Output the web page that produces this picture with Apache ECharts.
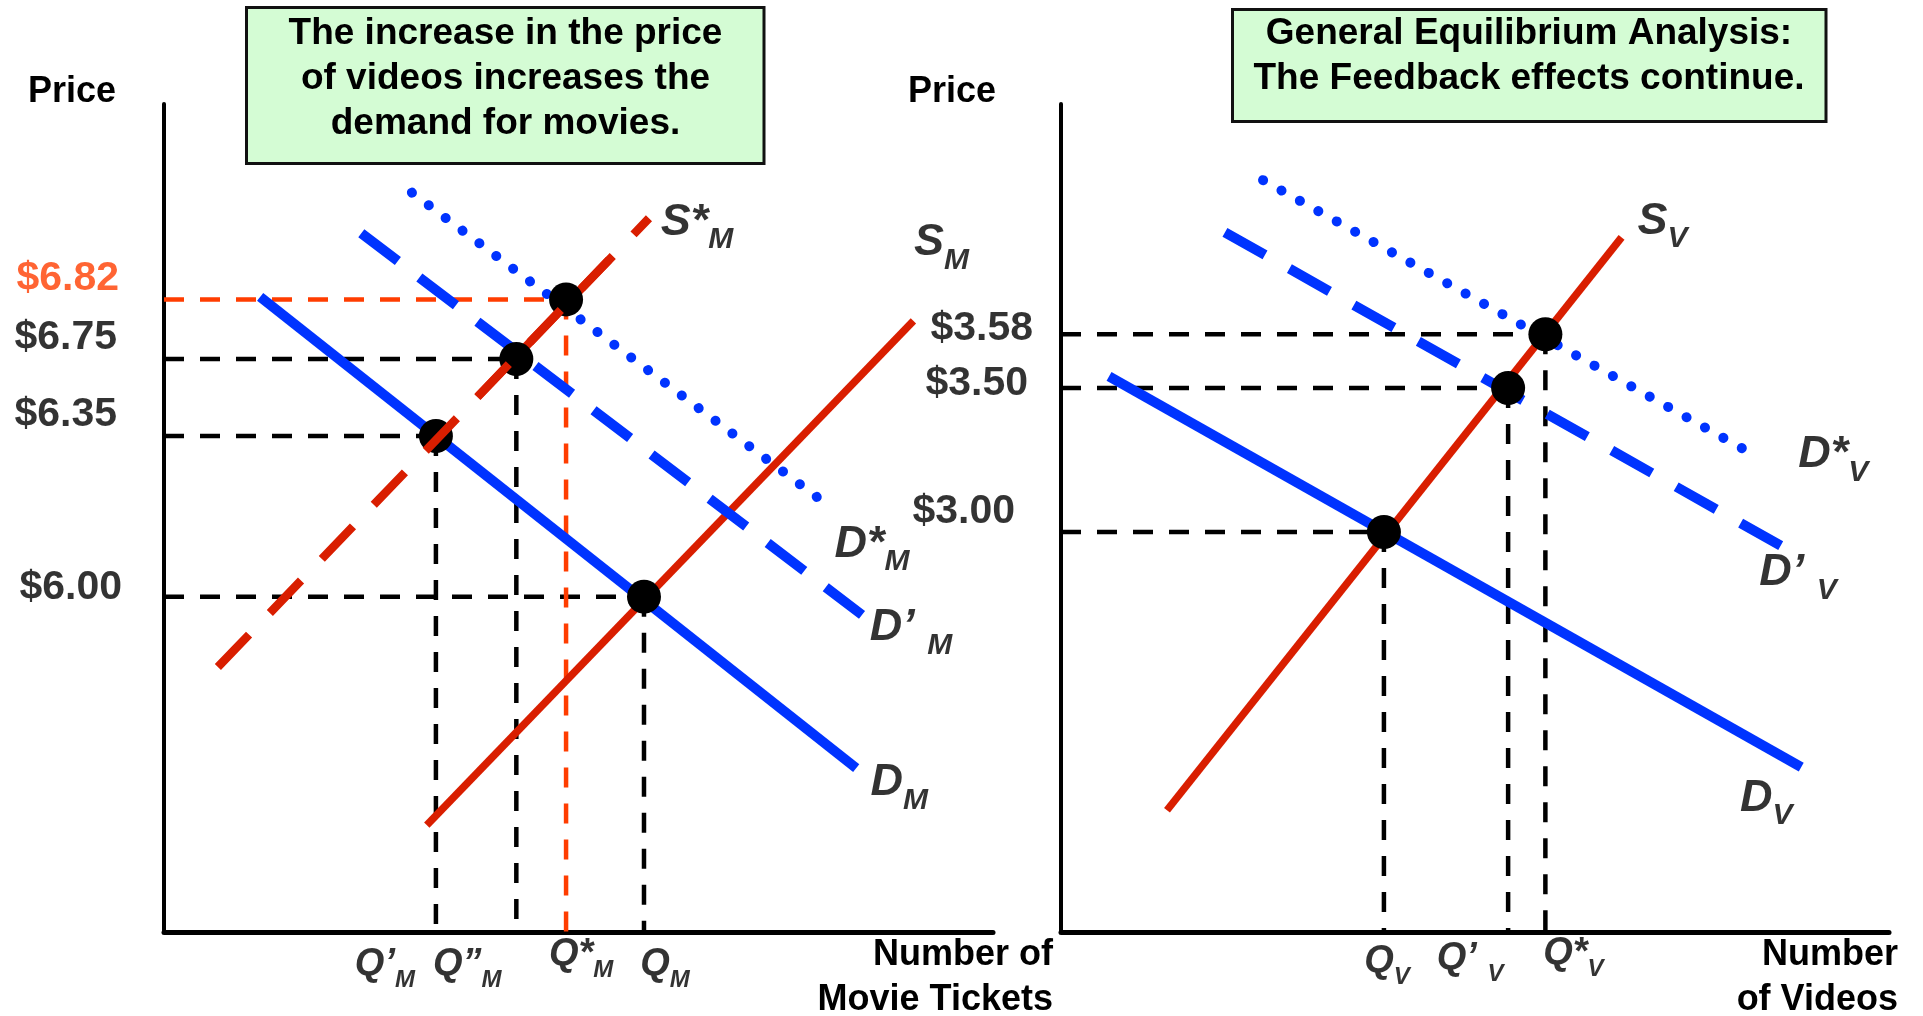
<!DOCTYPE html>
<html>
<head>
<meta charset="utf-8">
<title>General Equilibrium Analysis</title>
<script src="https://cdn.jsdelivr.net/npm/echarts@6/dist/echarts.min.js"></script>
<style>
html, body { margin: 0; padding: 0; background: #fff; }
#chart { width: 1923px; height: 1016px; }
</style>
</head>
<body>
<div id="chart"></div>
<script>
// both diagrams use schematic units 0..100 on each axis

// ---- movie tickets market (left) ----
const movieEq = [[57.9, 40.5], [32.8, 59.9], [42.5, 69.2], [48.5, 76.4]];
const moviePrices = ["$6.00", "$6.35", "$6.75", "$6.82"];
const movieQtys = ["{m|Q}{s|M}", "{m|Q’}{s|M}", "{m|Q”}{s|M}", "{m|Q*}{s|M}"];
const movieD = [[11.6, 76.7], [83.5, 19.8]];
const movieS = [[31.7, 12.9], [90.4, 73.8]];
const movieSStar = [[6.5, 32.0], [58.5, 86.2]];
const movieSStarSolid = [[37.8, 64.6], [53.7, 81.2]];
const movieDPrime = [[23.8, 84.4], [84.2, 38.3]];
const movieDStar = [[29.9, 89.3], [79.6, 51.9]];

// ---- videos market (right) ----
const videoEq = [[39.0, 48.3], [54.0, 65.7], [58.5, 72.2]];
const videoPrices = ["$3.00", "$3.50", "$3.58"];
const videoQtys = ["{m|Q}{s|V}", "{m|Q’ }{s|V}", "{m|Q*}{s|V}"];
const videoS = [[12.8, 14.7], [67.7, 83.9]];
const videoD = [[5.8, 67.1], [89.4, 19.9]];
const videoDPrime = [[19.8, 84.5], [87.2, 46.5]];
const videoDStar = [[24.4, 90.8], [83.0, 58.0]];

const FONT = '"Liberation Sans", Arial, sans-serif';
const RED = "#d91e00";
const BLUE = "#0033ff";
const ORANGE = "#ff3d00";
const DASH = [20, 16];
const DOTS = [0.1, 21];

const richCurve = {
  m: { fontSize: 45, lineHeight: 45, padding: [0, 0, 10, 0], fontStyle: "italic", fontWeight: "bold", fontFamily: FONT, color: "#000", verticalAlign: "bottom" },
  s: { fontSize: 30, lineHeight: 30, fontStyle: "italic", fontWeight: "bold", fontFamily: FONT, color: "#000", verticalAlign: "bottom" },
};
const richQty = {
  m: { fontSize: 38, lineHeight: 38, padding: [0, 0, 8, 0], fontStyle: "italic", fontWeight: "bold", fontFamily: FONT, color: "#000", verticalAlign: "bottom" },
  s: { fontSize: 24, lineHeight: 24, fontStyle: "italic", fontWeight: "bold", fontFamily: FONT, color: "#000", verticalAlign: "bottom" },
};

let series = [];
const addLine = (gi, pts, color, width, dash, z, cap) => {
  series.push({
    type: "line",
    xAxisIndex: gi,
    yAxisIndex: gi,
    data: pts,
    symbol: "none",
    showSymbol: false,
    silent: true,
    z: z,
    lineStyle: { color: color, width: width, type: dash, cap: cap || "butt", opacity: 1 },
  });
};
const addDots = (gi, pts) => {
  series.push({
    type: "scatter",
    xAxisIndex: gi,
    yAxisIndex: gi,
    data: pts,
    symbol: "circle",
    symbolSize: 34,
    silent: true,
    z: 3,
    itemStyle: { color: "#000", opacity: 1 },
  });
};
const addLabels = (gi, items) => {
  series.push({
    type: "scatter",
    xAxisIndex: gi,
    yAxisIndex: gi,
    data: items,
    symbol: "circle",
    symbolSize: 1,
    silent: true,
    z: 5,
    itemStyle: { color: "rgba(0,0,0,0)" },
    label: { show: true, position: "inside" },
  });
};

// dashed guides from each equilibrium to the axes
movieEq.forEach((p, i) => {
  const c = i === 3 ? ORANGE : "#000";
  addLine(0, [[0, p[1]], [p[0], p[1]]], c, 4.5, DASH, 1);
  addLine(0, [[p[0], p[1]], [p[0], 0]], c, 4.5, DASH, 1);
});
videoEq.forEach((p) => {
  addLine(1, [[0, p[1]], [p[0], p[1]]], "#000", 4.5, DASH, 1);
  addLine(1, [[p[0], p[1]], [p[0], 0]], "#000", 4.5, DASH, 1);
});

// curves, left
addLine(0, movieSStarSolid, RED, 8.5, "solid", 2);
addLine(0, movieD, BLUE, 10, "solid", 2);
addLine(0, movieS, RED, 7.5, "solid", 2);
addLine(0, movieDPrime, BLUE, 10, [46, 27], 2);
addLine(0, movieDStar, BLUE, 10, DOTS, 2, "round");
addDots(0, movieEq);
addLine(0, movieSStar, RED, 8.5, [45, 30], 4);

// curves, right
addLine(1, videoD, BLUE, 10, "solid", 2);
addLine(1, videoS, RED, 7.5, "solid", 2);
addLine(1, videoDPrime, BLUE, 10, [46, 28], 2);
addLine(1, videoDStar, BLUE, 10, DOTS, 2, "round");
addDots(1, videoEq);

// price labels on the axes
const priceLabel = (txt, color, off) => ({
  formatter: txt,
  align: "right",
  verticalAlign: "middle",
  offset: off,
  color: color,
  fontSize: 41,
  fontWeight: "bold",
  fontFamily: FONT,
});
const moviePriceOff = [[-42, -9], [-47, -21], [-47, -21], [-45, -21]];
const videoPriceOff = [[-46, -20], [-33, -4], [-28, -5]];
addLabels(0, movieEq.map((p, i) => ({
  value: [0, p[1]],
  label: priceLabel(moviePrices[i], i === 3 ? ORANGE : "#000", moviePriceOff[i]),
})));
addLabels(1, videoEq.map((p, i) => ({
  value: [0, p[1]],
  label: priceLabel(videoPrices[i], "#000", videoPriceOff[i]),
})));

// quantity labels under the x axis
const movieQtyOff = [[21, 41], [-51, 41], [-49, 41], [15, 31]];
const videoQtyOff = [[3, 38], [-38, 35], [28, 30]];
addLabels(0, movieEq.map((p, i) => ({
  value: [p[0], 0],
  label: { formatter: movieQtys[i], rich: richQty, offset: movieQtyOff[i] },
})));
addLabels(1, videoEq.map((p, i) => ({
  value: [p[0], 0],
  label: { formatter: videoQtys[i], rich: richQty, offset: videoQtyOff[i] },
})));

// curve names
const curveLabel = (pt, txt, off) => ({ value: pt, label: { formatter: txt, rich: richCurve, offset: off } });
addLabels(0, [
  curveLabel(movieD[1], "{m|D}{s|M}", [43, 25]),
  curveLabel(movieS[1], "{m|S}{s|M}", [28, -68]),
  curveLabel(movieSStar[1], "{m|S*}{s|M}", [48, 14]),
  curveLabel(movieDPrime[1], "{m|D’ }{s|M}", [49, 23]),
  curveLabel(movieDStar[1], "{m|D*}{s|M}", [48, 52]),
]);
addLabels(1, [
  curveLabel(videoS[1], "{m|S}{s|V}", [41, -6]),
  curveLabel(videoD[1], "{m|D}{s|V}", [-35, 41]),
  curveLabel(videoDPrime[1], "{m|D’ }{s|V}", [15, 36]),
  curveLabel(videoDStar[1], "{m|D*}{s|V}", [85, 13]),
]);

const axisX = (gi) => ({
  gridIndex: gi,
  type: "value",
  min: 0,
  max: 100,
  axisLine: { show: true, onZero: false, lineStyle: { color: "#000", width: 5 } },
  axisTick: { show: false },
  axisLabel: { show: false },
  splitLine: { show: false },
});
const axisY = (gi) => ({
  gridIndex: gi,
  type: "value",
  min: 0,
  max: 100,
  axisLine: { show: true, onZero: false, lineStyle: { color: "#000", width: 4 } },
  axisTick: { show: false },
  axisLabel: { show: false },
  splitLine: { show: false },
});

const txt = (text, x, y, size, align, lh) => ({
  type: "text",
  silent: true,
  style: {
    text: text,
    x: x,
    y: y,
    align: align,
    verticalAlign: "middle",
    fontSize: size,
    fontWeight: "bold",
    fontFamily: FONT,
    lineHeight: lh || size,
    fill: "#000",
  },
});

let option = {
  animation: false,
  backgroundColor: "#fff",
  grid: [
    { left: 164, top: 104, width: 829, height: 828, outerBoundsMode: "none" },
    { left: 1061, top: 104, width: 828, height: 828, outerBoundsMode: "none" },
  ],
  xAxis: [axisX(0), axisX(1)],
  yAxis: [axisY(0), axisY(1)],
  graphic: [
    { type: "rect", silent: true, shape: { x: 246.5, y: 7.5, width: 517.5, height: 156 }, style: { fill: "#d4fcd4", stroke: "#111", lineWidth: 3 } },
    txt("The increase in the price\nof videos increases the\ndemand for movies.", 505.5, 78.8, 37, "center", 44.8),
    { type: "rect", silent: true, shape: { x: 1232.5, y: 9.5, width: 593.5, height: 112 }, style: { fill: "#d4fcd4", stroke: "#111", lineWidth: 3 } },
    txt("General Equilibrium Analysis:\nThe Feedback effects continue.", 1529, 56, 37, "center", 45.4),
    txt("Price", 72, 92.5, 36, "center"),
    txt("Price", 952, 92.5, 36, "center"),
    txt("Number of\nMovie Tickets", 1053, 978, 36, "right", 45),
    txt("Number\nof Videos", 1898, 978, 36, "right", 45),
  ],
  series: series,
};

const chart = echarts.init(document.getElementById("chart"), null, { renderer: "canvas" });
chart.setOption(option);
</script>
</body>
</html>
